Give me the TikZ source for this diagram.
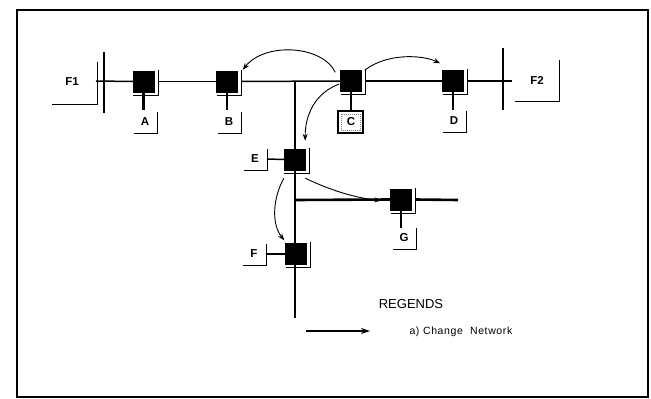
\documentclass[tikz,border=0pt]{standalone}
\usepackage{fontspec}
\setmainfont{Liberation Sans}
\usetikzlibrary{calc,arrows.meta}
\begin{document}
\begin{tikzpicture}[x=1pt,y=-1pt,
  sq/.style={fill=black,draw=black,minimum size=21pt,inner sep=0pt},
  lbl/.style={font=\fontsize{11.5}{13}\selectfont\bfseries,inner sep=0pt},
  thinln/.style={line width=0.9pt},
  medln/.style={line width=1.5pt},
  thickln/.style={line width=2.6pt},
  stub/.style={line width=2.2pt},
  arr/.style={line width=0.9pt,-{Stealth[length=7pt,width=5pt]}}
]
\useasboundingbox (0,0) rectangle (651,399);
\draw[line width=1.1pt] (17,10) rectangle (648,397);

% switch squares
\node[sq] (sA) at (143.5,81.5) {};
\node[sq] (sB) at (227,81.5) {};
\node[sq] (sC) at (351,81) {};
\node[sq] (sD) at (453,81) {};
\node[sq] (sE) at (294.5,159.5) {};
\node[sq] (sF) at (296,254) {};
\node[sq] (sG) at (401,199.5) {};
\foreach \n in {sA,sB,sC,sD,sE,sF,sG}
  \draw[thinln] ($(\n.center)+(14.5,-12)$) -- ++(0,25.5) -- ++(-25,0);

% labels
\node[lbl] (lA) at (145,122) {A};
\node[lbl] (lB) at (229,122) {B};
\node[lbl] (lC) at (351,122) {C};
\node[lbl] (lD) at (454,121) {D};
\node[lbl] (lE) at (255,159) {E};
\node[lbl] (lF) at (254,254) {F};
\node[lbl] (lG) at (404,238) {G};
\foreach \n in {lA,lB,lD,lE,lF,lG}
  \draw[thinln] ($(\n.center)+(12,-10)$) -- ++(0,21) -- ++(-23,0);
\draw[line width=1.2pt] ($(lC.center)+(-13,-11)$) rectangle ($(lC.center)+(12,11)$);
\draw[gray,line width=1pt,densely dotted] ($(lC.center)+(-10,-8)$) rectangle ($(lC.center)+(9,8)$);

% F1 / F2 terminals
\node[lbl] (lF1) at (72,82) {F1};
\node[lbl] (lF2) at (537,80) {F2};
\coordinate (f1t) at (104,52);
\coordinate (f1b) at (104,113);
\coordinate (f2t) at (503,48);
\coordinate (f2b) at (503,110);
\coordinate (f2e) at (512,81);
\draw[thinln] (97,62) -- (97,104) -- (52,104);
\draw[thinln] (559,60) -- (559,101) -- (515,101);
\draw[thickln] (f1t) -- (f1b);
\draw[thickln] (f2t) -- (f2b);

% bus lines
\draw[medln] (96,81) -- (sA.west);
\draw[thinln] ([xshift=4pt]sA.east) -- (sB.west);
\draw[medln] ([xshift=4pt]sB.east) -- (sC.west);
\draw[medln] ([xshift=4pt]sC.east) -- (sD.west);
\draw[medln] ([xshift=4pt]sD.east) -- (f2e);

% stubs
\draw[stub] (sA.south) -- ++(0,18);
\draw[stub] (sB.south) -- ++(0,18);
\draw[stub] (sC.south) -- ++(0,19);
\draw[stub] (sD.south) -- ++(0,18);
\draw[stub] (sG.south) -- ++(0,18);
\draw[medln] ($(lE.center)+(12,0)$) -- (sE.west);
\draw[medln] ($(lF.center)+(12,0)$) -- (sF.west);

% trunk lines
\coordinate (j1) at (295,81);
\coordinate (j2) at (295,200);
\coordinate (gend) at (458,200);
\coordinate (fend) at (295,318);
\draw[thickln] (j1) -- (j1 |- sE.north);
\draw[thickln] (j1 |- sE.south) -- (j1 |- sF.north);
\draw[thickln] (j1 |- sF.south) -- (fend);
\draw[thickln] (j2) -- (sG.west);
\draw[thickln] ([xshift=4pt]sG.east) -- (gend);

% change arrows
\draw[arr] ($(sC.north west)+(-5,2)$) .. controls (322,45) and (265,42) .. ($(sB.north east)+(5,-1)$);
\draw[arr] ($(sC.north east)+(3,0)$) .. controls (385,54) and (420,54) .. ($(sD.north west)+(-2,-7)$);
\draw[arr] ($(sC.west)+(-1,3)$) .. controls (315,93) and (305,115) .. ($(sE.north east)+(0,-8)$);
\draw[arr] ($(sE.south west)+(0,8)$) .. controls (272,200) and (272,225) .. ($(sF.north west)+(-1,-3)$);
\draw[arr] ($(sE.south east)+(0,8)$) .. controls (330,190) and (355,198) .. ($(sG.west)+(-9,1)$);

% legend
\node[font=\fontsize{13}{15}\selectfont] (reg) at (411,304) {REGENDS};
\coordinate (la) at (306,331);
\coordinate (lb) at (370,331);
\draw[line width=1.3pt,-{Stealth[length=9pt,width=6pt]}] (la) -- (lb);
\node[font=\fontsize{10.5}{12}\selectfont\addfontfeature{LetterSpace=6},anchor=west] (chg) at (406,332) {a) Change\ \ Network};
\end{tikzpicture}
\end{document}
